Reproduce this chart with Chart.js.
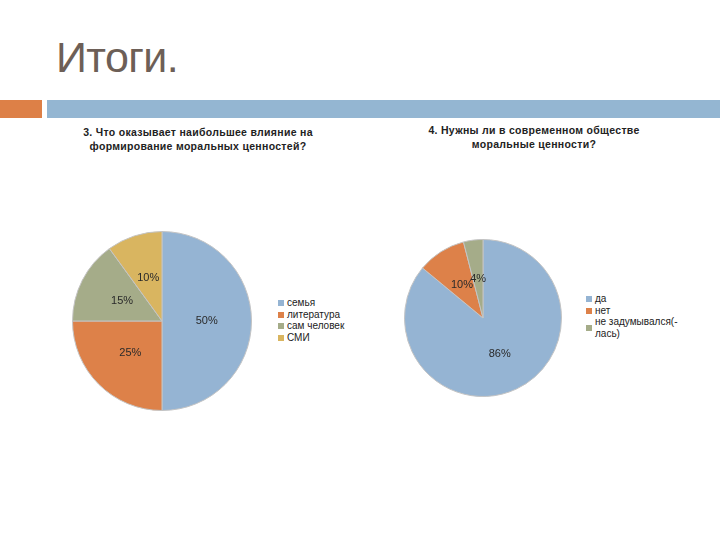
<!DOCTYPE html>
<html>
<head>
<meta charset="utf-8">
<script src="https://cdn.jsdelivr.net/npm/chart.js@4"></script>
<style>
  body { margin: 0; width: 720px; height: 540px; background: #fff; position: relative; overflow: hidden; font-family: "Liberation Sans", Arial, sans-serif; }
  .slide-title { position: absolute; left: 56px; top: 33px; font-family: "Liberation Sans Narrow", "Liberation Sans", sans-serif; font-size: 43px; letter-spacing: -0.6px; color: #6d5f57; }
  .bar-orange { position: absolute; left: 0; top: 100px; width: 42px; height: 18px; background: #dd8047; }
  .bar-blue { position: absolute; left: 47px; top: 100px; width: 673px; height: 18px; background: #94b6d2; }
  .chart-title { position: absolute; font-size: 10.5px; font-weight: bold; color: #222; text-align: center; line-height: 13.5px; letter-spacing: 0.3px; }
  .pie { position: absolute; }
  .legend { position: absolute; font-size: 10px; color: #222; line-height: 11.7px; }
  .legend div { position: relative; padding-left: 9px; }
  .legend span { position: absolute; left: 0; top: 50%; margin-top: -3px; width: 6px; height: 6px; }
</style>
</head>
<body>
<div class="slide-title">Итоги.</div>
<div class="bar-orange"></div>
<div class="bar-blue"></div>

<div class="chart-title" style="left:60px; top:126px; width:276px;">3. Что оказывает наибольшее влияние на<br>формирование моральных ценностей?</div>
<canvas id="pie1" class="pie" style="left:72px; top:231px;" width="180" height="180"></canvas>
<div id="legend1" class="legend" style="left:278px; top:297px;"></div>

<div class="chart-title" style="left:394px; top:124px; width:280px;">4. Нужны ли в современном обществе<br>моральные ценности?</div>
<canvas id="pie2" class="pie" style="left:404px; top:239px;" width="158" height="158"></canvas>
<div id="legend2" class="legend" style="left:586px; top:293px; width:100px;"></div>

<script>
// chart 3
const labels1 = ['семья', 'литература', 'сам человек', 'СМИ'];
const values1 = [50, 25, 15, 10];
const colors1 = ['#95b4d3', '#dd8149', '#a5ac89', '#d9b560'];

// chart 4
const labels2 = ['да', 'нет', 'не задумывался(-\nлась)'];
const values2 = [86, 10, 4];
const colors2 = ['#95b4d3', '#dd8149', '#a5ac89'];

// percent labels in the middle of each slice
const sliceLabels = {
    id: 'sliceLabels',
    afterDatasetsDraw(chart) {
        const ctx = chart.ctx;
        const data = chart.data.datasets[0].data;
        ctx.save();
        ctx.font = '11px "Liberation Sans", Arial, sans-serif';
        ctx.fillStyle = '#2a2a2a';
        ctx.textAlign = 'center';
        ctx.textBaseline = 'middle';
        chart.getDatasetMeta(0).data.forEach((arc, i) => {
            const p = arc.tooltipPosition();
            ctx.fillText(data[i] + '%', p.x, p.y);
        });
        ctx.restore();
    }
};

function makePie(id, labels, values, colors) {
    return new Chart(document.getElementById(id), {
        type: 'pie',
        data: {
            labels: labels,
            datasets: [{
                data: values,
                backgroundColor: colors,
                borderColor: '#c4c4c4',
                borderWidth: 1,
            }],
        },
        options: {
            responsive: false,
            animation: false,
            plugins: {
                legend: { display: false },
                tooltip: { enabled: false },
            },
        },
        plugins: [sliceLabels],
    });
}

function makeLegend(id, labels, colors) {
    const box = document.getElementById(id);
    labels.forEach((label, i) => {
        const row = document.createElement('div');
        const sw = document.createElement('span');
        sw.style.background = colors[i];
        row.appendChild(sw);
        row.innerHTML += label.replace('\n', '<br>');
        box.appendChild(row);
    });
}

makePie('pie1', labels1, values1, colors1);
makePie('pie2', labels2, values2, colors2);
makeLegend('legend1', labels1, colors1);
makeLegend('legend2', labels2, colors2);
</script>
</body>
</html>
